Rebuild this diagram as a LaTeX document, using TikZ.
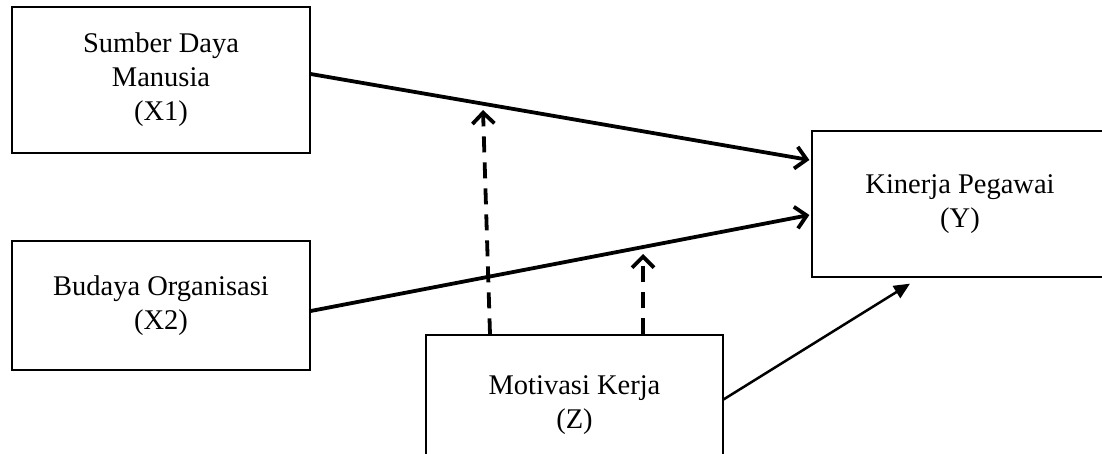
\documentclass[tikz,border=0pt]{standalone}
\usepackage{fontspec}
\setmainfont{Liberation Serif}
\usetikzlibrary{arrows.meta}
\begin{document}
\begin{tikzpicture}[x=1pt,y=1pt,
  box/.style={draw=black, line width=1.3pt, align=center, inner sep=0pt,
    font=\fontsize{28.5pt}{34pt}\selectfont},
  mainarrow/.style={line width=3.8pt, -{Straight Barb[length=11pt,width=22pt,line width=3.8pt]}},
  modarrow/.style={line width=3.8pt, dash pattern=on 16pt off 10pt, -{Straight Barb[length=11pt,width=22pt,line width=3.8pt]}},
  thinarrow/.style={line width=2.5pt, -{Triangle[length=16pt,width=14pt]}}]
\useasboundingbox (0,0) rectangle (1102,-453);
\clip (0,0) rectangle (1102,-453);
\node[box, minimum width=298pt, minimum height=146pt] (x1) at (161,-80) {Sumber Daya\\Manusia\\(X1)};
\node[box, minimum width=298pt, minimum height=129pt] (x2) at (161,-305.5) {Budaya Organisasi\\(X2)};
\node[box, minimum width=296pt, minimum height=146pt] (y) at (960,-204) {Kinerja Pegawai\\(Y)};
\node[box, minimum width=297pt, minimum height=140pt] (z) at (574.5,-405) {Motivasi Kerja\\(Z)};
\coordinate (m1) at (483,-110);
\coordinate (m2) at (643,-254);
\draw[mainarrow] ([yshift=6pt]x1.east) -- ([xshift=-2pt,yshift=44pt]y.west);
\draw[mainarrow] ([yshift=-5.5pt]x2.east) -- ([xshift=-2pt,yshift=-11pt]y.west);
\draw[modarrow] ([xshift=-84.5pt]z.north) -- (m1);
\draw[modarrow] ([xshift=68.5pt]z.north) -- (m2);
\draw[thinarrow] ([xshift=-1pt,yshift=5pt]z.east) -- ([xshift=-50pt,yshift=-6pt]y.south);
\end{tikzpicture}
\end{document}
